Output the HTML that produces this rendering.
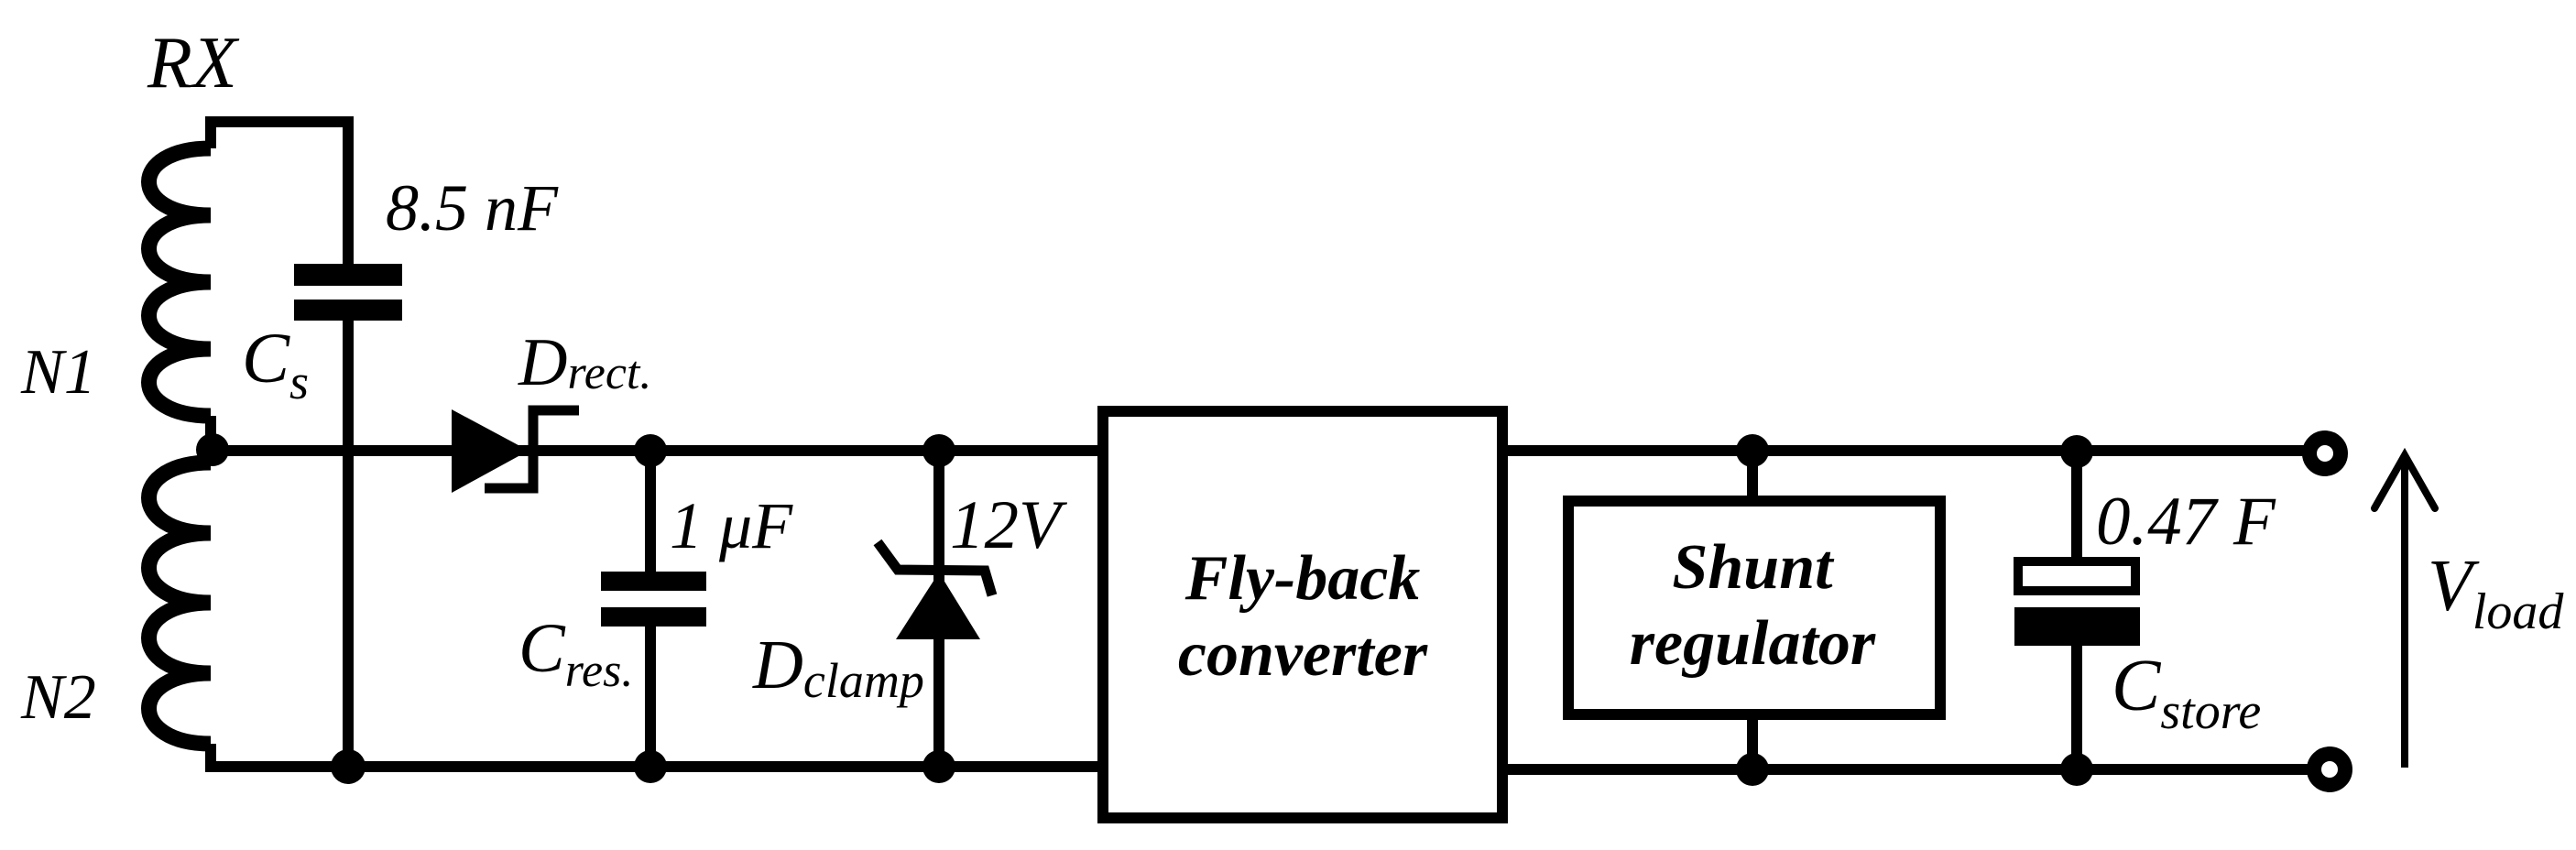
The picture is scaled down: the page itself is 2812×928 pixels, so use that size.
<!DOCTYPE html>
<html><head><meta charset="utf-8"><style>
html,body{margin:0;padding:0;background:#fff;}
svg{display:block;}
svg text{font-family:"Liberation Serif","DejaVu Serif",serif;font-style:italic;fill:#000;}
</style></head><body>
<svg width="2812" height="928" viewBox="0 0 2812 928" xmlns="http://www.w3.org/2000/svg">
<g stroke="#000" stroke-width="12" fill="none" stroke-linecap="butt">
  <polyline points="230,162 230,133 380,133 380,288"/>
  <line x1="380" y1="350" x2="380" y2="837"/>
  <path stroke-width="17" d="M230,162 C140,162 140,235 230,235 C140,235 140,308 230,308 C140,308 140,381 230,381 C140,381 140,454 230,454"/>
  <line x1="230" y1="454" x2="230" y2="492"/>
  <path stroke-width="17" d="M230,505 C140,505 140,582 230,582 C140,582 140,658 230,658 C140,658 140,735 230,735 C140,735 140,812 230,812"/>
  <line x1="230" y1="492" x2="230" y2="505"/>
  <polyline points="230,812 230,837 1198,837"/>
  <line x1="230" y1="492" x2="1198" y2="492"/>
  <line x1="1646" y1="492" x2="2538" y2="492"/>
  <line x1="1646" y1="840" x2="2543" y2="840"/>
  <polyline points="632,448 582,448 582,533 529,533" stroke-width="11"/>
  <line x1="710" y1="492" x2="710" y2="624"/>
  <line x1="710" y1="683" x2="710" y2="837"/>
  <line x1="1025" y1="492" x2="1025" y2="837"/>
  <polyline points="958,592 980,622 1075,623 1083,650" stroke-width="11"/>
  <rect x="1204" y="449" width="436" height="444"/>
  <rect x="1712" y="547" width="406" height="233"/>
  <line x1="1913" y1="492" x2="1913" y2="547"/>
  <line x1="1913" y1="780" x2="1913" y2="840"/>
  <line x1="2267" y1="492" x2="2267" y2="608"/>
  <line x1="2267" y1="705" x2="2267" y2="840"/>
  <rect x="2203" y="613" width="128" height="32" stroke-width="10"/>
  <polyline points="2592,555 2625,497 2658,555" stroke-width="8" stroke-linecap="round"/>
  <line x1="2625" y1="500" x2="2625" y2="838" stroke-width="8"/>
  <circle cx="2538" cy="495" r="17" stroke-width="16" fill="#fff"/>
  <circle cx="2543" cy="840" r="17" stroke-width="16" fill="#fff"/>
</g>
<g fill="#000">
  <rect x="321" y="288" width="118" height="24"/>
  <rect x="321" y="327" width="118" height="23"/>
  <polygon points="493,447 577,492 493,538"/>
  <rect x="656" y="624" width="115" height="21"/>
  <rect x="656" y="663" width="115" height="21"/>
  <polygon points="1025,625 1070,698 978,698"/>
  <rect x="2199" y="663" width="137" height="42"/>
  <circle cx="232" cy="491" r="18"/>
  <circle cx="380" cy="837" r="19"/>
  <circle cx="710" cy="492" r="18"/>
  <circle cx="710" cy="837" r="18"/>
  <circle cx="1025" cy="492" r="18"/>
  <circle cx="1025" cy="837" r="18"/>
  <circle cx="1913" cy="492" r="18"/>
  <circle cx="1913" cy="840" r="18"/>
  <circle cx="2267" cy="493" r="18"/>
  <circle cx="2267" cy="840" r="18"/>
</g>
<g>
<text x="161" y="95" font-size="80">RX</text>
<text x="421" y="251" font-size="72">8.5 nF</text>
<text x="23" y="429" font-size="70">N1</text>
<text x="23" y="784" font-size="70">N2</text>
<text x="264" y="417" font-size="78">C<tspan font-size="54" dy="18">s</tspan></text>
<text x="566" y="420" font-size="74">D<tspan font-size="52" dy="4">rect.</tspan></text>
<text x="731" y="598" font-size="72">1 μF</text>
<text x="566" y="733" font-size="76">C<tspan font-size="52" dy="16">res.</tspan></text>
<text x="822" y="751" font-size="76">D<tspan font-size="54" dy="10">clamp</tspan></text>
<text x="1037" y="598" font-size="75">12V</text>
<text x="1422" y="654" font-size="70" font-weight="bold" text-anchor="middle">Fly-back</text>
<text x="1422" y="737" font-size="70" font-weight="bold" text-anchor="middle">converter</text>
<text x="1913" y="642" font-size="70" font-weight="bold" text-anchor="middle">Shunt</text>
<text x="1913" y="725" font-size="70" font-weight="bold" text-anchor="middle">regulator</text>
<text x="2288" y="594" font-size="75">0.47 F</text>
<text x="2305" y="775" font-size="80">C<tspan font-size="56" dy="20">store</tspan></text>
<text x="2650" y="666" font-size="80">V<tspan font-size="56" dy="20">load</tspan></text>
</g>
</svg>
</body></html>
